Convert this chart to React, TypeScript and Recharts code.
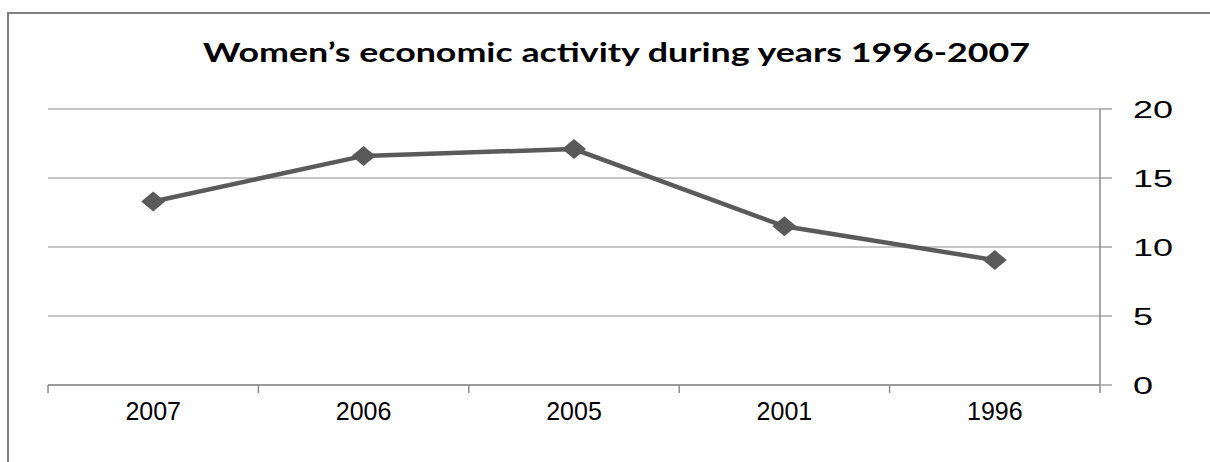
import React from "react";
import { LineChart, Line, XAxis, YAxis, CartesianGrid } from "recharts";

const categories = ["2007", "2006", "2005", "2001", "1996"];
const activityValues = [13.3, 16.6, 17.1, 11.5, 9.05];
const yTicks = [0, 5, 10, 15, 20];
const chartTitle = "Women\u2019s economic activity during years 1996-2007";

const data = categories.map((c, i) => ({ year: c, value: activityValues[i] }));

const GRID = "#8c8c8c";
const LINE = "#5a5a5a";
const BAND = (1100 - 48) / categories.length;

const Diamond = (props: any) => {
  const { cx, cy } = props;
  if (cx == null || cy == null) return null;
  return (
    <polygon
      points={`${cx},${cy - 10} ${cx + 12},${cy} ${cx},${cy + 10} ${cx - 12},${cy}`}
      fill={LINE}
    />
  );
};

const XTick = (props: any) => {
  const { x, y, payload, index } = props;
  const last = index === categories.length - 1;
  return (
    <g>
      <line x1={x - BAND / 2} x2={x - BAND / 2} y1={y} y2={y + 8} stroke={GRID} strokeWidth={1.5} />
      {last && <line x1={x + BAND / 2} x2={x + BAND / 2} y1={y} y2={y + 8} stroke={GRID} strokeWidth={1.5} />}
      <text x={x} y={y + 35} textAnchor="middle" fontFamily="Liberation Sans, Arial" fontSize={25} fill="#000">
        {payload.value}
      </text>
    </g>
  );
};

const YTick = (props: any) => {
  const { x, y, payload } = props;
  return (
    <g transform={`translate(${x + 21},${y}) scale(1.5,1)`}>
      <text x={0} y={0} dy="0.36em" textAnchor="start" fontFamily="Liberation Sans, Arial" fontSize={24} fill="#000">
        {payload.value}
      </text>
    </g>
  );
};

export default function App() {
  return (
    <div style={{ position: "absolute", left: 0, top: 0, width: 1210, height: 462, background: "#fff", overflow: "hidden" }}>
      <div
        style={{
          position: "absolute",
          left: 7,
          top: 12,
          width: 1300,
          height: 600,
          border: "2px solid #808080",
          boxSizing: "border-box",
        }}
      />
      <svg width={1210} height={462} style={{ position: "absolute", left: 0, top: 0 }}>
        <text
          x={203}
          y={62}
          textLength={827}
          lengthAdjust="spacingAndGlyphs"
          fontFamily="Lato"
          fontWeight="bold"
          fontSize={26}
          fill="#000"
        >
          {chartTitle}
        </text>
      </svg>
      <div style={{ position: "absolute", left: 0, top: 0 }}>
        <LineChart width={1210} height={462} data={data} margin={{ top: 109, right: 30, bottom: 37, left: 48 }}>
          <CartesianGrid horizontal={true} vertical={false} stroke={GRID} strokeWidth={1.2} />
          <XAxis
            dataKey="year"
            scale="band"
            height={40}
            tickSize={0}
            tickMargin={0}
            tickLine={false}
            axisLine={{ stroke: GRID, strokeWidth: 1.5 }}
            tick={<XTick />}
            interval={0}
          />
          <YAxis
            orientation="right"
            width={80}
            domain={[0, 20]}
            ticks={yTicks}
            tickSize={12}
            tickMargin={0}
            tickLine={{ stroke: GRID, strokeWidth: 1.2 }}
            axisLine={{ stroke: GRID, strokeWidth: 1.5 }}
            tick={<YTick />}
            interval={0}
          />
          <Line
            dataKey="value"
            stroke={LINE}
            strokeWidth={4.5}
            dot={<Diamond />}
            activeDot={false}
            isAnimationActive={false}
          />
        </LineChart>
      </div>
    </div>
  );
}
